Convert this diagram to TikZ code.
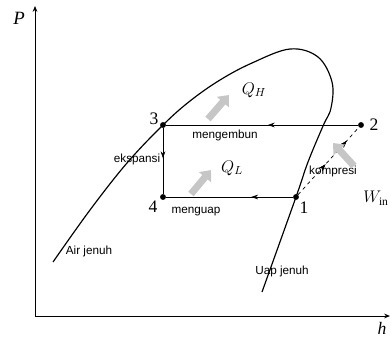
\documentclass[tikz,border=0pt]{standalone}
\usepackage{fontspec}
\setmainfont{Liberation Serif}
\setsansfont{Liberation Sans}
\usetikzlibrary{arrows.meta,decorations.markings}

\begin{document}
\begin{tikzpicture}[
  x=0.3mm, y=-0.3mm,
  >=Stealth,
  dot/.style={circle, fill=black, inner sep=0pt, minimum size=5pt},
  lbl/.style={font=\sffamily\fontsize{10}{10}\selectfont, inner sep=1pt},
  num/.style={font=\fontsize{15}{15}\selectfont, inner sep=0pt},
  sym/.style={font=\fontsize{14}{14}\selectfont, inner sep=0pt},
  axis/.style={line width=0.8pt, -{Stealth[length=5pt,width=4pt]}},
  cyc/.style={line width=0.6pt},
  midarrow/.style={postaction={decorate}, decoration={markings, mark=at position #1 with {\arrow{Stealth[length=6pt,width=4pt]}}}},
  heat/.style={line width=6pt, gray!45, -{Triangle[length=8pt,width=13pt]}}
]
\useasboundingbox (0,0) rectangle (391,337);

\coordinate (origin) at (35,316);
\coordinate (ptop) at (35,6);
\coordinate (hend) at (390,316);
\draw[axis] (origin) -- (ptop);
\draw[axis] (origin) -- (hend);
\node[sym, font=\itshape\fontsize{16}{16}\selectfont] (plbl) at (19,18) {P};
\node[sym, font=\itshape\fontsize{15}{15}\selectfont] (hlbl) at (382,328) {h};

\draw[line width=1pt] plot[smooth, tension=0.6] coordinates {
  (53,262) (90,210) (127,163) (163,125) (190,101) (220,80) (252,63)
  (290,49) (318,57) (332,82) (331,108) (323,126) (308,162) (296,197) (262,292)};

\node[dot] (p3) at (163,125) {};
\node[dot] (p2) at (361,125) {};
\node[dot] (p4) at (163,197) {};
\node[dot] (p1) at (296,197) {};
\node[num] (l3) at (154,119) {3};
\node[num] (l2) at (374,125) {2};
\node[num] (l4) at (153,207) {4};
\node[num] (l1) at (304,208) {1};

\draw[cyc, midarrow=0.47] (p2) -- (p3);
\draw[cyc, midarrow=0.46] (p3) -- (p4);
\draw[cyc, midarrow=0.33] (p1) -- (p4);
\draw[cyc, dashed, midarrow=0.45, midarrow=0.8] (p1) -- (p2);

\node[lbl] (kond) at (225,135) {mengembun};
\node[lbl] (evap) at (196,212) {menguap};
\node[lbl] (eksp) at (137,159) {ekspansi};
\node[lbl] (komp) at (333,171) {kompresi};
\node[lbl] (cair) at (89,251) {Air jenuh};
\node[lbl] (uap) at (282,271) {Uap jenuh};

\coordinate (qht) at (208,119);
\coordinate (qhh) at (229,95);
\draw[heat] (qht) -- (qhh);
\node[sym] (qh) at (254,90) {$Q_H$};
\coordinate (qlt) at (191,194);
\coordinate (qlh) at (211,170);
\draw[heat] (qlt) -- (qlh);
\node[sym] (ql) at (232,168) {$Q_L$};
\coordinate (wt) at (354,166);
\coordinate (wh) at (333,143);
\draw[heat] (wt) -- (wh);
\node[sym] (win) at (376,198) {$W_{\mathrm{in}}$};
\end{tikzpicture}
\end{document}
